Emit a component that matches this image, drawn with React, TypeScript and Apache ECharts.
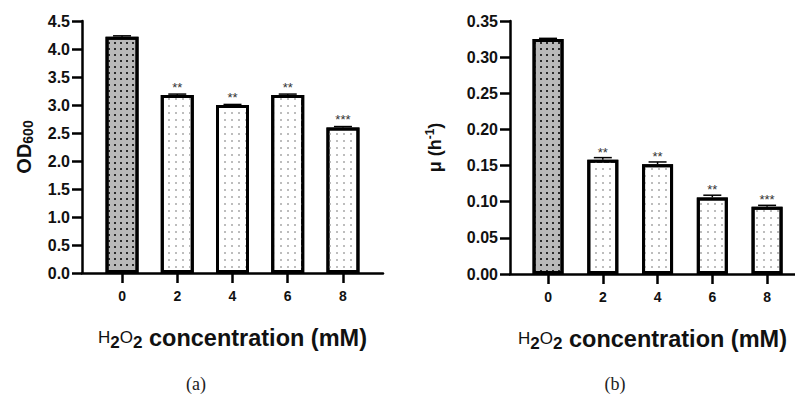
import React, { useEffect, useRef } from "react";
import * as echarts from "echarts";

const concentrations = [0, 2, 4, 6, 8];
const odMean = [4.22, 3.18, 3.0, 3.18, 2.6];
const odErr = [0.015, 0.015, 0.01, 0.015, 0.015];
const muMean = [0.325, 0.158, 0.152, 0.106, 0.093];
const muErr = [0.001, 0.003, 0.003, 0.003, 0.002];
const sigMarks = ["", "**", "**", "**", "***"];
const odTicks = { min: 0, max: 4.5, interval: 0.5 };
const muTicks = { min: 0, max: 0.35, interval: 0.05 };

const FONT = "Liberation Sans";

const darkDecal = {
  symbol: "rect",
  symbolSize: 1,
  dashArrayX: [1.6, 3.6],
  dashArrayY: [1.6, 3.8],
  color: "#2a2a2a",
};
const lightDecal = {
  symbol: "rect",
  symbolSize: 1,
  dashArrayX: [1.2, 4.2],
  dashArrayY: [1.2, 4.4],
  color: "#bdbdbd",
};

function barData(means: number[]) {
  return means.map((m, i) => ({
    value: [concentrations[i], m],
    itemStyle: {
      color: i === 0 ? "#b9b9b9" : "#ffffff",
      borderColor: "#000",
      borderWidth: 3,
      decal: i === 0 ? darkDecal : lightDecal,
    },
    label: {
      show: sigMarks[i] !== "",
      formatter: sigMarks[i],
    },
  }));
}

function errData(means: number[]) {
  return means.map((m, i) => [concentrations[i], m]);
}

const makeRenderErr = (means: number[], errs: number[]) => (params: any, api: any) => {
  const i = params.dataIndex;
  const x = concentrations[i];
  const m = means[i];
  const e = errs[i];
  const top = api.coord([x, m + e]);
  const base = api.coord([x, m]);
  const hw = 9;
  return {
    type: "group",
    children: [
      {
        type: "line",
        shape: { x1: base[0], y1: base[1], x2: base[0], y2: top[1] },
        style: { stroke: "#000", lineWidth: 1.5 },
      },
      {
        type: "line",
        shape: { x1: base[0] - hw, y1: top[1], x2: base[0] + hw, y2: top[1] },
        style: { stroke: "#000", lineWidth: 1.5 },
      },
    ],
  };
};

const xName = "{n|H}{s|2}{n|O}{s|2}{b| concentration (mM)}";
const xNameRich = {
  n: { fontSize: 17, fontFamily: FONT, color: "#111" },
  s: { fontSize: 17, fontFamily: FONT, fontWeight: "bold", color: "#111", padding: [10, 0, 0, 0] },
  b: { fontSize: 23.5, fontFamily: FONT, fontWeight: "bold", color: "#111" },
};

function xAxisFor(gridIndex: number, min: number, max: number) {
  return {
    type: "value",
    gridIndex,
    min,
    max,
    name: xName,
    nameLocation: "middle",
    nameGap: 51,
    nameTextStyle: { rich: xNameRich },
    axisLine: { show: true, onZero: false, lineStyle: { color: "#000", width: 2.5 } },
    axisTick: { show: true, length: 10, lineStyle: { color: "#000", width: 2.5 }, customValues: concentrations },
    axisLabel: {
      show: true,
      customValues: concentrations,
      margin: 16,
      fontSize: 14,
      fontWeight: "bold",
      fontFamily: FONT,
      color: "#111",
    },
    splitLine: { show: false },
  };
}

function yAxisFor(gridIndex: number, t: { min: number; max: number; interval: number }, digits: number, name: string, rich: any, nameGap: number) {
  return {
    type: "value",
    gridIndex,
    min: t.min,
    max: t.max,
    interval: t.interval,
    name,
    nameLocation: "middle",
    nameGap,
    nameTextStyle: { rich },
    axisLine: { show: true, onZero: false, lineStyle: { color: "#000", width: 2.5 } },
    axisTick: { show: true, length: 10, lineStyle: { color: "#000", width: 2.5 } },
    axisLabel: {
      margin: 12,
      fontSize: 16,
      fontWeight: "bold",
      fontFamily: FONT,
      color: "#111",
      formatter: (v: number) => v.toFixed(digits),
    },
    splitLine: { show: false },
  };
}

const sigLabel = {
  position: "top",
  distance: 1,
  fontSize: 13,
  fontFamily: FONT,
  color: "#333",
};

export default function App() {
  const ref = useRef<HTMLDivElement>(null);
  useEffect(() => {
    if (!ref.current) return;
    const chart = echarts.init(ref.current, undefined, { renderer: "svg" });
    const panelTitle = { fontFamily: "Liberation Serif", fontSize: 18, fontWeight: "normal", color: "#222" };
    chart.setOption({
      animation: false,
      backgroundColor: "#fff",
      title: [
        { text: "(a)", left: 196, top: 375, padding: 0, textAlign: "center", textStyle: panelTitle },
        { text: "(b)", left: 615, top: 375, padding: 0, textAlign: "center", textStyle: panelTitle },
      ],
      grid: [
        { left: 82, top: 21, width: 301, height: 252 },
        { left: 510, top: 21, width: 285, height: 253 },
      ],
      xAxis: [xAxisFor(0, -1.45, 9.45), xAxisFor(1, -1.39, 9.02)],
      yAxis: [
        yAxisFor(0, odTicks, 1, "{b|OD}{s|600}", {
          b: { fontSize: 20, fontWeight: "bold", fontFamily: FONT, color: "#111" },
          s: { fontSize: 14, fontWeight: "bold", fontFamily: FONT, color: "#111", padding: [9, 0, 0, 0] },
        }, 47),
        yAxisFor(1, muTicks, 2, "{b|μ (h}{s|-1}{b|)}", {
          b: { fontSize: 18, fontWeight: "bold", fontFamily: FONT, color: "#111" },
          s: { fontSize: 12, fontWeight: "bold", fontFamily: FONT, color: "#111", padding: [0, 0, 9, 0] },
        }, 65),
      ],
      series: [
        {
          type: "bar",
          xAxisIndex: 0,
          yAxisIndex: 0,
          barWidth: 33,
          data: barData(odMean),
          label: sigLabel,
        },
        {
          type: "custom",
          xAxisIndex: 0,
          yAxisIndex: 0,
          renderItem: makeRenderErr(odMean, odErr),
          data: errData(odMean),
          clip: false,
          z: 5,
        },
        {
          type: "bar",
          xAxisIndex: 1,
          yAxisIndex: 1,
          barWidth: 31,
          data: barData(muMean),
          label: sigLabel,
        },
        {
          type: "custom",
          xAxisIndex: 1,
          yAxisIndex: 1,
          renderItem: makeRenderErr(muMean, muErr),
          data: errData(muMean),
          clip: false,
          z: 5,
        },
      ],
    });
    return () => chart.dispose();
  }, []);
  return (
    <div
      ref={ref}
      style={{ position: "absolute", left: 0, top: 0, width: 795, height: 394 }}
    />
  );
}
